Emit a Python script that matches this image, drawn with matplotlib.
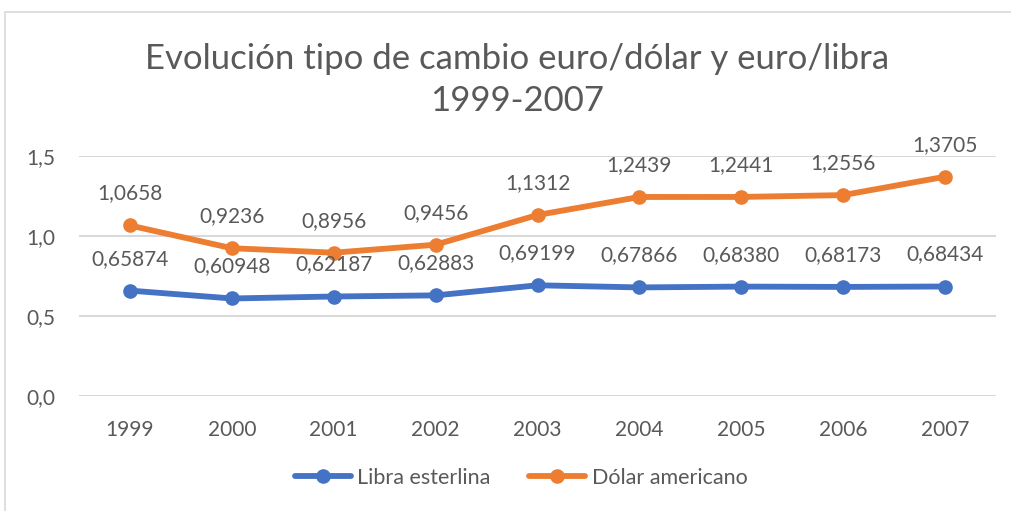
import matplotlib
matplotlib.use("Agg")
import matplotlib.pyplot as plt
from matplotlib.patches import Rectangle

years = ["1999", "2000", "2001", "2002", "2003", "2004", "2005", "2006", "2007"]
libra = [0.65874, 0.60948, 0.62187, 0.62883, 0.69199, 0.67866, 0.68380, 0.68173, 0.68434]
libra_labels = ["0,65874", "0,60948", "0,62187", "0,62883", "0,69199", "0,67866", "0,68380", "0,68173", "0,68434"]
dolar = [1.0658, 0.9236, 0.8956, 0.9456, 1.1312, 1.2439, 1.2441, 1.2556, 1.3705]
dolar_labels = ["1,0658", "0,9236", "0,8956", "0,9456", "1,1312", "1,2439", "1,2441", "1,2556", "1,3705"]
yticks = [0.0, 0.5, 1.0, 1.5]
ytick_labels = ["0,0", "0,5", "1,0", "1,5"]

plt.rcParams['font.family'] = ['Lato', 'DejaVu Sans']
gray = "#595959"
W, H = 1011, 511
fig = plt.figure(figsize=(W / 100, H / 100), dpi=100)
ax = fig.add_axes([79 / W, 1 - 396 / H, (996 - 79) / W, 240 / H])

x = list(range(len(years)))
blue = "#4472C4"
orange = "#ED7D31"
ax.plot(x, libra, color=blue, lw=4.2, marker="o", ms=9.5, label="Libra esterlina", solid_capstyle="round", zorder=3)
ax.plot(x, dolar, color=orange, lw=4.2, marker="o", ms=9.5, label="Dólar americano", solid_capstyle="round", zorder=3)

fs = 15
for xi, v, t in zip(x, libra, libra_labels):
    ax.annotate(t, (xi, v), xytext=(0, 23), textcoords="offset points", ha="center", va="center", fontsize=fs, color=gray)
for xi, v, t in zip(x, dolar, dolar_labels):
    ax.annotate(t, (xi, v), xytext=(0, 23), textcoords="offset points", ha="center", va="center", fontsize=fs, color=gray)

ax.set_xlim(-0.5, len(years) - 0.5)
ax.set_ylim(0, 1.5)
ax.set_yticks(yticks)
ax.set_yticklabels(ytick_labels)
ax.set_xticks(x)
ax.set_xticklabels(years)
ax.tick_params(axis="both", length=0, labelsize=fs, labelcolor=gray)
ax.tick_params(axis="x", pad=17)
ax.tick_params(axis="y", pad=17)
for s in ax.spines.values():
    s.set_visible(False)
ax.grid(axis="y", color="#D9D9D9", lw=1.5, zorder=0)
ax.set_axisbelow(True)
ax.patch.set_alpha(0)

fig.text(517 / W, 1 - 80 / H, "Evolución tipo de cambio euro/dólar y euro/libra\n1999-2007",
         ha="center", va="center", fontsize=25, color=gray, linespacing=1.4)

leg = fig.legend(loc="center", bbox_to_anchor=(521 / W, 1 - 478 / H), ncol=2, frameon=False,
                 fontsize=15.5, labelcolor=gray, handlelength=2.6, handletextpad=0.3, columnspacing=1.8)

fig.patches.append(Rectangle((4.5 / W, -0.1), 1.2, 1 - 12 / H + 0.1, transform=fig.transFigure,
                             fill=False, edgecolor="#D9D9D9", lw=1.2))

fig.savefig("out.png", dpi=100)
